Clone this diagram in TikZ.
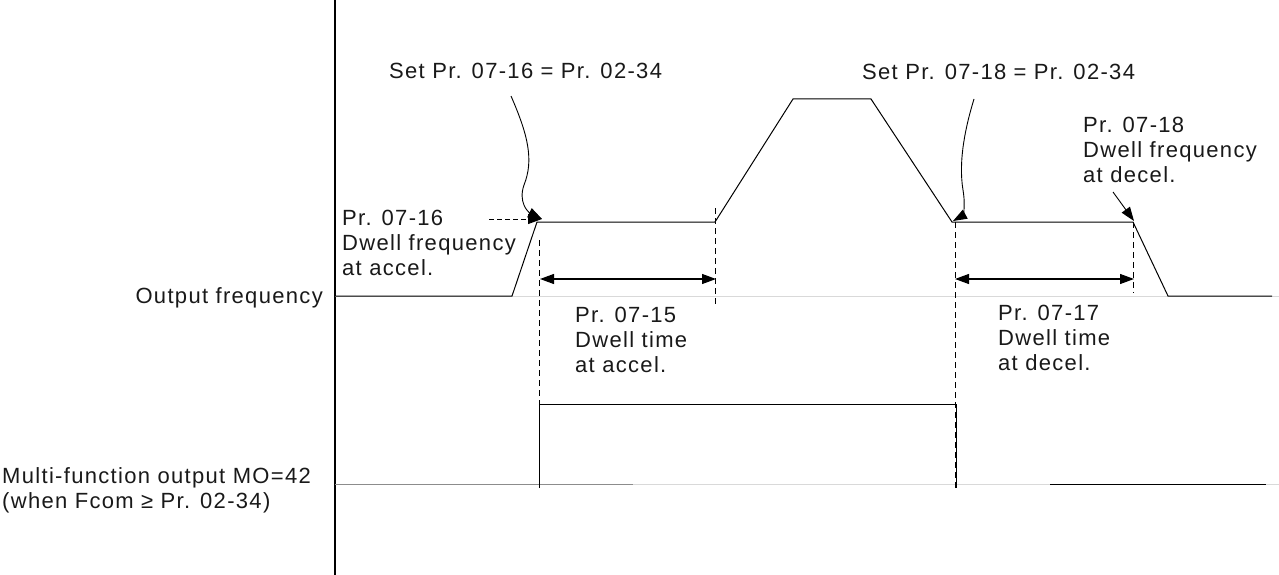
\documentclass[tikz,border=0pt]{standalone}
\usepackage{fontspec}
\setmainfont{Liberation Sans}[LetterSpace=6]
\usetikzlibrary{arrows.meta}
\tikzset{
  lbl/.style={font=\fontsize{22}{25}\selectfont,inner sep=0pt,align=left,text=black!90},
  sig/.style={line width=1pt},
  base/.style={line width=1pt,black!15},
  dsh/.style={line width=.9pt,dash pattern=on 6pt off 4pt},
  tip/.style={-{Triangle[length=14pt,width=10pt]},line width=.9pt},
  span/.style={{Triangle[length=14pt,width=10pt]}-{Triangle[length=14pt,width=10pt]},line width=1.2pt},
}
\begin{document}
\begin{tikzpicture}[x=1pt,y=-1pt]
  \useasboundingbox (0,0) rectangle (1279,575);
  \draw[line width=1.2pt] (335,0)--(335,575);
  \draw[base] (335,296)--(1279,296);
  \draw[base] (335,484)--(1279,484);
  \draw[line width=1pt,black!45] (335,484)--(633,484);
  \draw[sig] (1050,484)--(1266,484);
  \coordinate (acc) at (537,222);
  \coordinate (dec) at (952,222);
  \coordinate (dend) at (1133,222);
  \draw[sig] (335,296)--(512,296)--(acc)--(715,222)--(793,99)--(871,99)--(dec)--(dend)--(1168,296)--(1272,296);
  \draw[sig] (539,488)--(539,404)--(956,404)--(956,488);
  \draw[dsh] (539,240)--(539,488);
  \draw[dsh] (715,208)--(715,305);
  \draw[dsh] (955,222)--(955,488);
  \draw[dsh] (1133,222)--(1133,293);
  \coordinate (s1) at (540,279);
  \coordinate (e1) at (716,279);
  \coordinate (s2) at (955,279);
  \coordinate (e2) at (1134,279);
  \draw[span] (s1)--(e1);
  \draw[span] (s2)--(e2);
  \node[lbl,anchor=north west] (set16) at (389,63) {Set Pr. 07-16 = Pr. 02-34};
  \node[lbl,anchor=north west] (set18) at (862,64) {Set Pr. 07-18 = Pr. 02-34};
  \node[lbl,anchor=north west] (f16) at (342,210) {Pr. 07-16\\Dwell frequency\\at accel.};
  \node[lbl,anchor=north west] (f18) at (1083,117) {Pr. 07-18\\Dwell frequency\\at decel.};
  \node[lbl,anchor=north west] (t15) at (575,307) {Pr. 07-15\\Dwell time\\at accel.};
  \node[lbl,anchor=north west] (t17) at (998,305) {Pr. 07-17\\Dwell time\\at decel.};
  \node[lbl,anchor=base east] (outf) at (323,303) {Output frequency};
  \node[lbl,anchor=north west] (mo) at (2,467) {Multi-function output MO=42\\(when Fcom ≥ Pr. 02-34)};
  \coordinate (c1) at (511,96);
  \coordinate (h1) at (542,219);
  \coordinate (c2) at (974,99);
  \coordinate (h2) at (953,221);
  \coordinate (d1) at (489,219);
  \coordinate (c3) at (1113,192);
  \coordinate (h3) at (1134,221);
  \draw[tip] (c1) .. controls (528,135) and (534,160) .. (524,185) .. controls (518,202) and (528,212) .. (h1);
  \draw[tip,dash pattern=on 5pt off 3pt] (d1)--(h1);
  \draw[tip] (c2) .. controls (966,125) and (958,160) .. (963,190) .. controls (966,208) and (962,216) .. (h2);
  \draw[tip] (c3)--(h3);
\end{tikzpicture}
\end{document}
